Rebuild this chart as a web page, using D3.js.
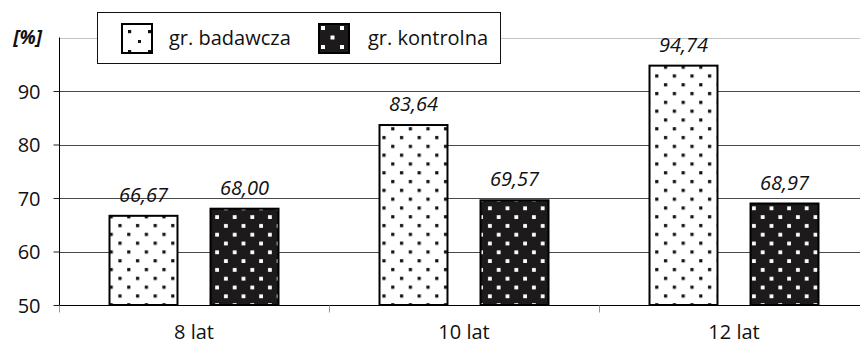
<!DOCTYPE html>
<html>
<head>
<meta charset="utf-8">
<script src="https://d3js.org/d3.v7.min.js"></script>
<style>
	body { margin: 0; background: #fff; }
	text { font-family: "Open Sans", "Noto Sans", sans-serif; fill: #111; }
</style>
</head>
<body>
<svg id="svgChart" width="860" height="343"></svg>
<script>
// values
var categories = ["8 lat", "10 lat", "12 lat"];
var seriesNames = ["gr. badawcza", "gr. kontrolna"];
var badawcza = [66.67, 83.64, 94.74];
var kontrolna = [68.00, 69.57, 68.97];
var yTicks = [50, 60, 70, 80, 90];
var yMax = 100;

var svg = d3.select("#svgChart");
var plotLeft = 59, plotRight = 869, plotTop = 37.5, plotBottom = 305;

var x = d3.scaleBand().domain(categories).range([plotLeft, plotRight]);
var xInner = d3.scaleBand().domain(seriesNames).range([0, x.bandwidth()])
			.paddingInner(0.327).paddingOuter(0.5);
var y = d3.scaleLinear().domain([yTicks[0], yMax]).range([plotBottom, plotTop]);

var fmt = d3.formatLocale({decimal: ",", thousands: " ", grouping: [3], currency: ["", ""]}).format(".2f");

// patterns: dotted white and dotted black
var defs = svg.append("defs");
function makePattern(id, size, dot, bg, fg, ox, oy, d0) {
	var p = defs.append("pattern")
		.attr("id", id)
		.attr("patternUnits", "userSpaceOnUse")
		.attr("x", ox).attr("y", oy)
		.attr("width", size).attr("height", size);
	p.append("rect").attr("width", size).attr("height", size).attr("fill", bg);
	[[d0, d0], [d0 + size / 2, d0 + size / 2]].forEach(function(c){
		p.append("rect").attr("x", c[0]).attr("y", c[1])
			.attr("width", dot).attr("height", dot).attr("fill", fg);
	});
}
makePattern("pLight", 17.6, 3.2, "#fff", "#111", 0, 0, 4);
makePattern("pDark", 17.6, 3.8, "#1c1a1b", "#fff", 0, 0, 4);
makePattern("lgLight", 20, 3.2, "#fff", "#111", 121, 23, 7);
makePattern("lgDark", 19, 4, "#1c1a1b", "#fff", 318, 23, 3);
var fills = {"gr. badawcza": "url(#pLight)", "gr. kontrolna": "url(#pDark)"};

// gridlines
svg.append("g").selectAll("line")
	.data(yTicks.slice(1).concat([yMax]))
	.enter().append("line")
	.attr("x1", plotLeft).attr("x2", 860)
	.attr("y1", function(d){ return Math.round(y(d)) + 0.5; })
	.attr("y2", function(d){ return Math.round(y(d)) + 0.5; })
	.attr("stroke", function(d){ return d === yMax ? "#c4c4c4" : "#4a4a4a"; })
	.attr("stroke-width", 1);

// y axis
var yAxis = svg.append("g")
	.attr("transform", "translate(" + (plotLeft + 0.5) + ",0)")
	.call(d3.axisLeft(y).tickValues(yTicks).tickSize(6).tickPadding(13).tickSizeOuter(0));
yAxis.select(".domain").remove();
yAxis.selectAll(".tick line").attr("stroke", "#222");
yAxis.selectAll(".tick text").style("font-size", "20px").attr("dy", "0.36em");
svg.append("line")
	.attr("x1", plotLeft + 0.5).attr("x2", plotLeft + 0.5)
	.attr("y1", plotTop).attr("y2", plotBottom)
	.attr("stroke", "#000");
svg.append("text")
	.attr("x", 42).attr("y", 44)
	.attr("text-anchor", "end")
	.style("font-size", "19px").style("font-weight", "bold").style("font-style", "italic")
	.text("[%]");

// x axis
var xAxis = svg.append("g")
	.attr("transform", "translate(0," + (plotBottom + 0.5) + ")");
xAxis.append("line")
	.attr("x1", plotLeft).attr("x2", 860)
	.attr("stroke", "#000");
xAxis.selectAll(".xtick")
	.data(categories)
	.enter().append("line")
	.attr("class", "xtick")
	.attr("x1", function(d){ return Math.round(x(d)) + 0.5; })
	.attr("x2", function(d){ return Math.round(x(d)) + 0.5; })
	.attr("y1", 0).attr("y2", 7)
	.attr("stroke", "#999");
xAxis.selectAll(".xlab")
	.data(categories)
	.enter().append("text")
	.attr("class", "xlab")
	.attr("x", function(d){ return x(d) + x.bandwidth() / 2; })
	.attr("y", 33)
	.attr("text-anchor", "middle")
	.style("font-size", "20px")
	.text(function(d){ return d; });

// bars
var barData = [];
categories.forEach(function(c, i){
	barData.push({cat: c, s: seriesNames[0], v: badawcza[i]});
	barData.push({cat: c, s: seriesNames[1], v: kontrolna[i]});
});
var bars = svg.append("g");
bars.selectAll("rect")
	.data(barData)
	.enter().append("rect")
	.attr("x", function(d){ return x(d.cat) + xInner(d.s); })
	.attr("y", function(d){ return y(d.v); })
	.attr("width", xInner.bandwidth())
	.attr("height", function(d){ return plotBottom - y(d.v); })
	.attr("fill", function(d){ return fills[d.s]; })
	.attr("stroke", "#000")
	.attr("stroke-width", 2);
bars.selectAll("text")
	.data(barData)
	.enter().append("text")
	.attr("x", function(d){ return x(d.cat) + xInner(d.s) + xInner.bandwidth() / 2; })
	.attr("y", function(d){ return y(d.v) - 14; })
	.attr("text-anchor", "middle")
	.style("font-size", "20px").style("font-style", "italic")
	.text(function(d){ return fmt(d.v); });

// legend
var lg = svg.append("g");
lg.append("rect")
	.attr("x", 97.5).attr("y", 12.5).attr("width", 403).attr("height", 51)
	.attr("fill", "#fff").attr("stroke", "#111");
var lgPos = [{sw: 121, tx: 169, fill: "url(#lgLight)"}, {sw: 318, tx: 368, fill: "url(#lgDark)"}];
seriesNames.forEach(function(s, i){
	lg.append("rect")
		.attr("x", lgPos[i].sw + 1).attr("y", 24)
		.attr("width", 30).attr("height", 29)
		.attr("fill", lgPos[i].fill)
		.attr("stroke", "#000").attr("stroke-width", 2);
	lg.append("text")
		.attr("x", lgPos[i].tx).attr("y", 45)
		.style("font-size", "20px")
		.text(s);
});
</script>
</body>
</html>
